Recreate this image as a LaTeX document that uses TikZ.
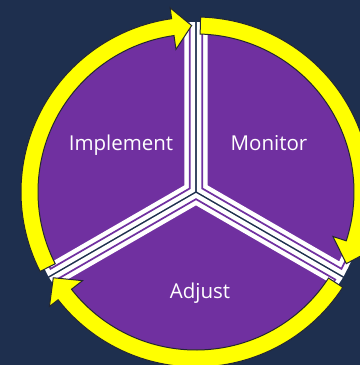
\documentclass[tikz,border=0pt]{standalone}
\usepackage{fontspec}
\setmainfont{Open Sans}
\definecolor{bgnavy}{RGB}{30,47,78}
\definecolor{pieviolet}{RGB}{112,48,160}
\definecolor{arrowyellow}{RGB}{255,255,0}
\definecolor{arrowedge}{RGB}{35,38,50}
\tikzset{
  piece/.style={fill=pieviolet, draw=white, double=pieviolet, line width=4.5, double distance=1.7},
  loop arrow/.style={fill=arrowyellow, draw=arrowedge, line width=1},
  stage/.style={text=white, anchor=base, font=\fontsize{20.5}{24}\selectfont}
}
\begin{document}
\begin{tikzpicture}[x=1pt,y=1pt]
\useasboundingbox (-196,-173) rectangle (164,192);
\clip (-196,-173) rectangle (164,192);
\fill[bgnavy] (-196,-173) rectangle (164,192);
% three pie pieces
\foreach \a in {-30, 90, 210}
  \draw[piece] (\a+60:7.16) -- (\a+2.16:164.5) arc[start angle=\a+2.16, end angle=\a+117.84, radius=164.5] -- cycle;
% yellow arrows, clockwise
\foreach \s/\t/\h in {207/91.5/98, 88.5/-25.5/-18, -33/-149/-142}
  \draw[loop arrow] (\s:175) arc[start angle=\s, end angle=\h, radius=175] -- (\h:186) -- (\t:166.5) -- (\h:144) -- (\h:158) arc[start angle=\h, end angle=\s, radius=158] -- cycle;
\node[stage] (implement) at (-75,42) {Implement};
\node[stage] (monitor) at (73,42) {Monitor};
\node[stage] (adjust) at (4,-106) {Adjust};
\end{tikzpicture}
\end{document}
